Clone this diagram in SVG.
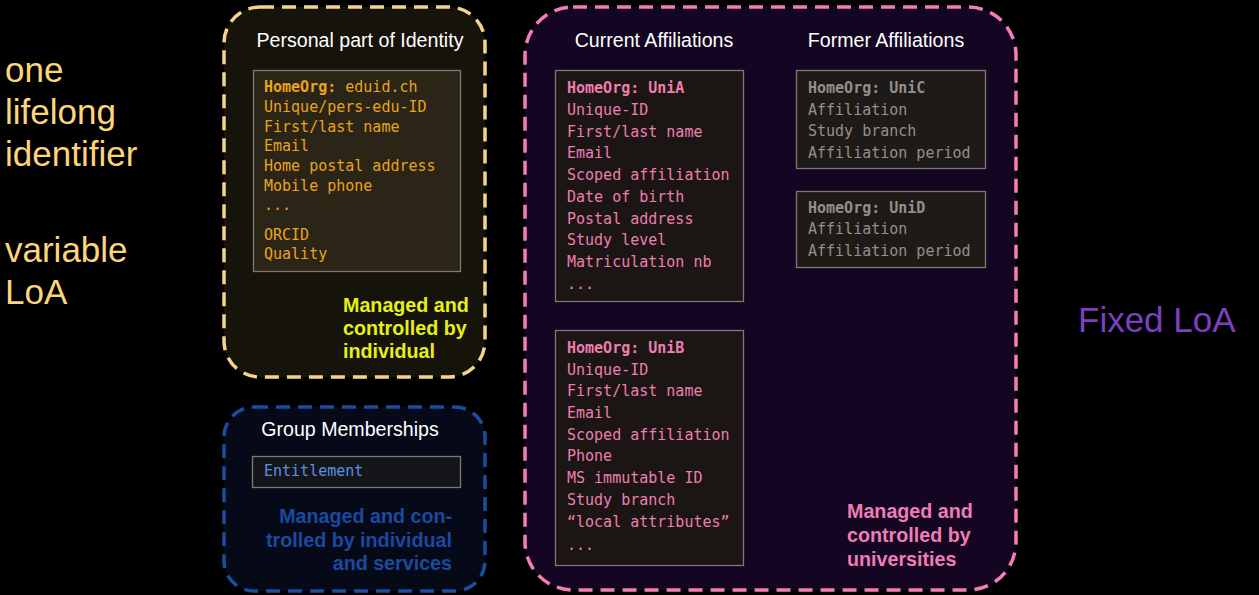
<svg xmlns="http://www.w3.org/2000/svg" width="1259" height="595" viewBox="0 0 1259 595">
  <style>
    .sans { font-family: "Liberation Sans", Arial, sans-serif; }
    .mono { font-family: "DejaVu Sans Mono", "Liberation Mono", monospace; font-size: 15px; }
    .title { font-family: "Liberation Sans", Arial, sans-serif; font-size: 19.6px; fill: #ffffff; text-anchor: middle; }
    .note { font-family: "Liberation Sans", Arial, sans-serif; font-size: 19.7px; font-weight: bold; }
    .side { font-family: "Liberation Sans", Arial, sans-serif; font-size: 35px; }
    .card { stroke: #7d7a74; stroke-width: 1.3; }
    .frame { stroke-width: 3.5; stroke-dasharray: 14 8; }
    .b { font-weight: bold; }
  </style>
  <rect width="1259" height="595" fill="#000000"/>

  <!-- left-hand captions -->
  <g id="lifelong" class="side" fill="#fbd47b">
    <text x="5" y="82">one</text>
    <text x="5" y="124">lifelong</text>
    <text x="5" y="166">identifier</text>
    <text x="5" y="262">variable</text>
    <text x="5" y="304">LoA</text>
  </g>

  <!-- personal part -->
  <g id="personal">
    <rect class="frame" x="224" y="7" width="261" height="370" rx="36" fill="#16130a" stroke="#f6d38b"/>
    <text class="title" x="360" y="47">Personal part of Identity</text>
    <rect class="card" x="253.5" y="70.5" width="207" height="201" fill="#2a2516"/>
    <g class="mono" fill="#eaa31c">
      <text x="264" y="92"><tspan class="b">HomeOrg:</tspan> eduid.ch</text>
      <text x="264" y="112">Unique/pers-edu-ID</text>
      <text x="264" y="132">First/last name</text>
      <text x="264" y="151">Email</text>
      <text x="264" y="171">Home postal address</text>
      <text x="264" y="191">Mobile phone</text>
      <text x="264" y="210">...</text>
      <text x="264" y="240">ORCID</text>
      <text x="264" y="259">Quality</text>
    </g>
    <g class="note" fill="#e6f018">
      <text x="343" y="312">Managed and</text>
      <text x="343" y="335">controlled by</text>
      <text x="343" y="358">individual</text>
    </g>
  </g>

  <!-- group memberships -->
  <g id="groups">
    <rect class="frame" x="224" y="407" width="261" height="184" rx="30" fill="#060918" stroke="#1c4c9c"/>
    <text class="title" x="350" y="436">Group Memberships</text>
    <rect class="card" x="252.5" y="456.5" width="208" height="31" fill="#141519"/>
    <text class="mono" x="264" y="476" fill="#5b8fe3">Entitlement</text>
    <g class="note" fill="#1b49a0" text-anchor="end">
      <text x="452" y="523">Managed and con-</text>
      <text x="452" y="547">trolled by individual</text>
      <text x="452" y="570">and services</text>
    </g>
  </g>

  <!-- university affiliations -->
  <g id="affiliations">
    <rect class="frame" x="525" y="7" width="491" height="583" rx="48" fill="#140622" stroke="#f47db4"/>
    <text class="title" x="654" y="47">Current Affiliations</text>
    <text class="title" x="886" y="47">Former Affiliations</text>
    <g class="note" fill="#f07cb5">
      <text x="847" y="518">Managed and</text>
      <text x="847" y="542">controlled by</text>
      <text x="847" y="566">universities</text>
    </g>
  </g>

  <g id="uniA">
    <rect class="card" x="555.5" y="70.5" width="188" height="231" fill="#1b1614"/>
    <g class="mono" fill="#ee7db1">
      <text x="567" y="93" class="b">HomeOrg: UniA</text>
      <text x="567" y="115">Unique-ID</text>
      <text x="567" y="137">First/last name</text>
      <text x="567" y="158">Email</text>
      <text x="567" y="180">Scoped affiliation</text>
      <text x="567" y="202">Date of birth</text>
      <text x="567" y="224">Postal address</text>
      <text x="567" y="245">Study level</text>
      <text x="567" y="267">Matriculation nb</text>
      <text x="567" y="289">...</text>
    </g>
  </g>

  <g id="uniB">
    <rect class="card" x="555.5" y="330.5" width="188" height="235" fill="#1b1614"/>
    <g class="mono" fill="#ee7db1">
      <text x="567" y="353" class="b">HomeOrg: UniB</text>
      <text x="567" y="375">Unique-ID</text>
      <text x="567" y="396">First/last name</text>
      <text x="567" y="418">Email</text>
      <text x="567" y="440">Scoped affiliation</text>
      <text x="567" y="461">Phone</text>
      <text x="567" y="483">MS immutable ID</text>
      <text x="567" y="505">Study branch</text>
      <text x="567" y="527">“local attributes”</text>
      <text x="567" y="550">...</text>
    </g>
  </g>

  <g id="uniC">
    <rect class="card" x="796.5" y="70.5" width="189" height="98" fill="#1e1a17"/>
    <g class="mono" fill="#958f89">
      <text x="808" y="93" class="b">HomeOrg: UniC</text>
      <text x="808" y="115">Affiliation</text>
      <text x="808" y="136">Study branch</text>
      <text x="808" y="158">Affiliation period</text>
    </g>
  </g>

  <g id="uniD">
    <rect class="card" x="796.5" y="191.5" width="189" height="76" fill="#1e1a17"/>
    <g class="mono" fill="#958f89">
      <text x="808" y="213" class="b">HomeOrg: UniD</text>
      <text x="808" y="234">Affiliation</text>
      <text x="808" y="256">Affiliation period</text>
    </g>
  </g>

  <g id="fixed">
    <text class="side" x="1078" y="332" fill="#7c3fc0">Fixed LoA</text>
  </g>

  <!-- no connectors in this layout -->
  <g id="connectors"/>
</svg>
